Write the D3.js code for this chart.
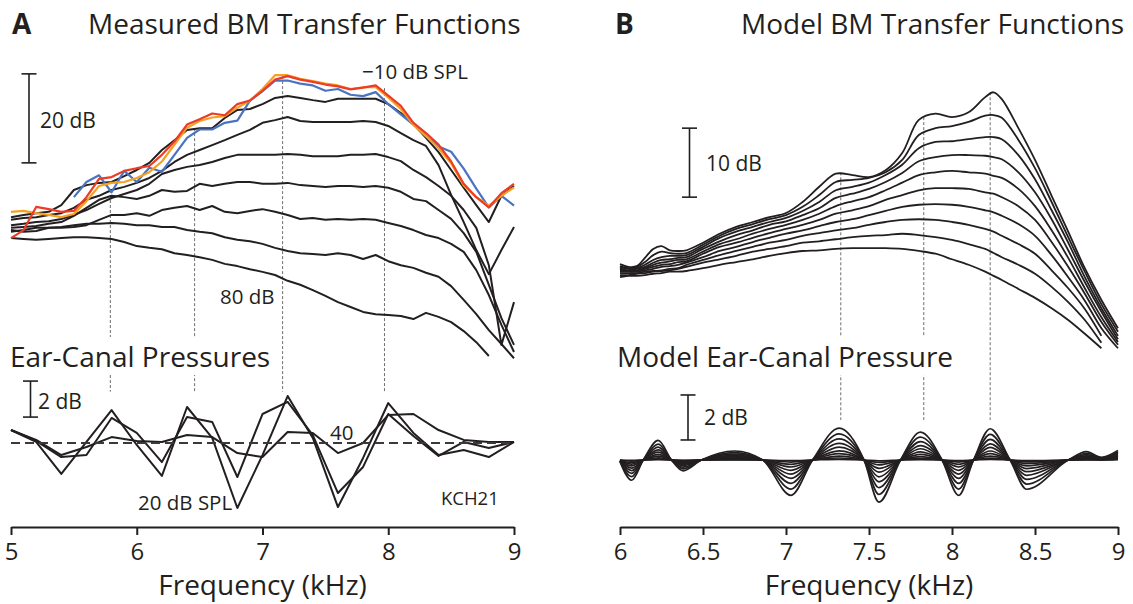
<!DOCTYPE html>
<html>
<head>
<meta charset="utf-8">
<script src="https://cdn.jsdelivr.net/npm/d3@7"></script>
<style>
  body { margin: 0; background: #fff; }
  text { font-family: "Open Sans", sans-serif; fill: #231f20; }
</style>
</head>
<body>
<svg id="fig" width="1133" height="604"></svg>
<script>
// ---------- Panel A: measured basilar-membrane transfer functions (dB) ----------
const freqA = [5.0, 5.1, 5.2, 5.3, 5.4, 5.5, 5.6, 5.7, 5.8, 5.9,
               6.0, 6.1, 6.2, 6.3, 6.4, 6.5, 6.6, 6.7, 6.8, 6.9,
               7.0, 7.1, 7.2, 7.3, 7.4, 7.5, 7.6, 7.7, 7.8, 7.9,
               8.0, 8.1, 8.2, 8.3, 8.4, 8.5, 8.6, 8.7, 8.8, 8.9, 9.0];

const bmMinus10 = [27.4, 29.2, 34.4, 33.9, 33.3, 33.5, 36.6, 40.7, 41.1, 42.5, 43.1, 43.6,
                   46.1, 49.1, 52.9, 54.1, 55.4, 55.0, 57.5, 58.3, 60.5, 63.0, 63.8, 63.0,
                   62.5, 61.9, 61.5, 60.8, 61.2, 61.7, 59.4, 57.1, 53.3, 51.0, 48.4, 44.6,
                   39.6, 36.6, 34.3, 37.5, 39.6];
const bm0 = [33.3, 33.5, 33.0, 32.6, 32.1, 32.8, 35.7, 39.1, 39.8, 40.0, 40.9, 42.2,
             44.6, 48.4, 52.2, 53.7, 54.5, 54.8, 56.7, 58.3, 60.9, 64.0, 64.0, 63.2,
             62.7, 62.1, 61.7, 60.9, 61.3, 61.3, 59.0, 56.4, 52.9, 50.3, 47.6, 44.2,
             39.2, 36.6, 34.7, 36.9, 38.8];
const bm10 = [null, null, null, null, null, 36.6, 40.0, 41.5, 37.7, 42.5, 40.0, 43.2,
              42.3, 46.1, 49.9, 51.8, 51.8, 53.3, 53.8, 58.3, 60.4, 62.8, 62.8, 62.1,
              61.7, 60.5, 60.9, 59.6, 59.3, 60.2, 57.5, 55.2, 52.9, 50.3, 48.0, 46.8,
              43.0, 38.5, 34.3, 36.9, 34.7];
const bm20 = [32.1, 32.6, 33.0, 33.3, 34.8, 38.2, 39.3, 39.8, 40.0, 41.3, 42.7, 44.3,
              47.2, 49.4, 51.7, 52.1, 52.1, 54.4, 56.2, 56.4, 57.5, 58.9, 59.3, 58.9,
              58.4, 58.0, 58.7, 58.7, 58.7, 58.7, 57.5, 55.5, 53.0, 49.9, 46.7, 42.7,
              38.7, 34.8, 31.0, 36.9, 39.1];
const bm30 = [31.5, 31.9, 32.1, 32.6, 33.0, 34.2, 36.0, 36.9, 38.2, 38.9, 39.8, 40.9,
              42.5, 44.5, 46.1, 47.2, 48.3, 49.4, 50.6, 51.7, 53.3, 53.9, 54.6, 53.7,
              53.5, 53.5, 53.5, 53.5, 53.7, 53.5, 52.6, 51.0, 49.4, 48.1, 43.8, 37.1,
              31.0, 24.7, 19.3, 24.7, 29.9];
const bm40 = [30.3, 30.6, 31.0, 31.2, 31.7, 32.6, 33.7, 35.1, 36.4, 37.3, 38.2, 39.6,
              41.8, 42.7, 43.4, 43.8, 44.5, 45.4, 46.1, 46.1, 46.1, 46.1, 46.3, 46.1,
              45.8, 45.8, 45.8, 46.1, 46.1, 46.3, 45.6, 44.7, 42.7, 41.1, 39.1, 36.9,
              33.7, 29.7, 21.3, 3.4, 13.0];
const bm50 = [29.7, 29.9, 30.1, 30.6, 31.0, 32.4, 34.2, 36.0, 36.9, 36.6, 36.2, 36.9,
              38.2, 37.8, 38.0, 39.6, 39.1, 39.6, 40.0, 40.0, 39.6, 39.6, 39.8, 39.3,
              39.1, 38.9, 39.1, 39.1, 38.9, 39.1, 38.7, 37.8, 36.2, 35.7, 33.7, 31.7,
              28.5, 24.3, 16.9, 9.4, 3.4];
const bm60 = [28.8, 29.2, 29.7, 29.7, 29.7, 29.9, 30.3, 31.5, 32.6, 32.6, 33.0, 32.4,
              33.7, 34.2, 34.6, 33.7, 34.6, 33.3, 33.0, 33.5, 33.9, 33.3, 32.6, 31.7,
              31.9, 31.5, 31.7, 31.5, 31.7, 31.5, 30.8, 30.1, 29.2, 28.1, 27.4, 26.1,
              24.3, 20.2, 14.6, 7.9, 1.8];
const bm70 = [29.2, 28.8, 29.0, 29.7, 29.9, 30.3, 30.6, 30.6, 30.8, 30.6, 30.3, 30.3,
              29.9, 29.9, 29.2, 28.8, 28.5, 27.6, 27.0, 26.7, 26.1, 25.2, 24.5, 24.0,
              23.8, 23.6, 24.0, 23.6, 22.7, 23.6, 22.2, 21.3, 20.7, 19.6, 18.7, 16.6,
              13.5, 10.3, 6.7, 3.6, 0.4];
const bm80 = [27.4, 27.2, 27.0, 27.2, 27.4, 27.6, 27.6, 27.4, 27.2, 26.5, 25.6, 25.2,
              24.9, 24.0, 23.6, 23.1, 22.5, 21.6, 21.1, 20.4, 19.8, 19.1, 17.8, 16.9,
              15.7, 14.4, 13.0, 11.9, 10.8, 10.3, 10.1, 9.9, 9.2, 10.6, 9.7, 8.5,
              6.5, 4.0, 0.9, null, null];

// Measured ear-canal pressure re mean (dB), 0.2-kHz steps
const freqCanalA = [5.0, 5.2, 5.4, 5.6, 5.8, 6.0, 6.2, 6.4, 6.6, 6.8, 7.0,
                    7.2, 7.4, 7.6, 7.8, 8.0, 8.2, 8.4, 8.6, 8.8, 9.0];
const canal20 = [0.72, 0.06, -1.72, 0.06, 1.83, -0.11, -1.83, 2.0, 0.28, -3.61, -0.67,
                 2.61, 0.28, -3.56, -0.83, 2.22, 0.56, -0.67, -0.39, -0.78, 0.06];
const canal30 = [0.72, 0.11, -0.78, -0.67, 1.39, 0.56, -1.06, 1.44, 1.17, -1.89, 1.61,
                 2.28, 0.44, -2.78, -1.33, 1.61, 0.39, -0.72, 0.06, -0.28, 0.06];
const canal40 = [0.72, 0.17, -0.67, -0.22, 0.33, 0.11, 0.06, 0.44, 0.33, -0.56, -0.78,
                 0.61, 0.56, -0.56, 0.0, 1.56, 1.61, 0.72, 0.17, 0.06, 0.06];

// Guide lines linking BM peaks to ear-canal maxima
const guideFreqA = [5.79, 6.46, 7.16, 7.97];
const guideTopA = [38.2, 52.1, 63.8, 61.1];

// ---------- Panel B: model transfer functions ----------
const freqB = [6.0, 6.05, 6.1, 6.15, 6.2, 6.25, 6.3, 6.35, 6.4, 6.5, 6.6, 6.7,
               6.8, 6.9, 7.0, 7.1, 7.2, 7.3, 7.4, 7.5, 7.6, 7.7, 7.8, 7.9,
               8.0, 8.1, 8.2, 8.25, 8.3, 8.4, 8.5, 8.6, 8.7, 8.8, 8.9, 9.0];
const model1 = [13.9, 13.5, 13.6, 14.8, 16.1, 16.5, 15.9, 15.8, 15.9, 17.0, 18.3, 19.3,
                20.0, 20.7, 21.3, 22.9, 25.1, 27.0, 26.8, 26.5, 27.5, 30.0, 34.8, 35.7,
                35.2, 35.9, 38.1, 38.8, 37.8, 33.6, 29.0, 23.8, 18.6, 13.3, 8.7, 4.6];
const model2 = [13.6, 13.3, 13.5, 14.2, 15.2, 15.7, 15.5, 15.4, 15.5, 16.7, 18.0, 19.0,
                19.7, 20.4, 21.0, 22.2, 23.9, 25.8, 26.1, 26.4, 27.2, 29.0, 32.6, 33.6,
                33.9, 34.5, 35.4, 35.5, 35.1, 31.9, 27.8, 22.9, 17.8, 12.8, 8.1, 4.1];
const model3 = [13.5, 13.2, 13.3, 13.8, 14.5, 14.9, 15.1, 15.1, 15.2, 16.4, 17.7, 18.6,
                19.3, 20.0, 20.6, 21.6, 22.9, 24.6, 25.1, 25.7, 26.8, 28.3, 30.7, 31.6,
                31.7, 32.0, 32.3, 32.3, 32.0, 29.7, 26.2, 21.7, 17.0, 12.0, 7.5, 3.5];
const model4 = [13.3, 13.0, 13.2, 13.5, 14.1, 14.5, 14.6, 14.8, 14.9, 16.1, 17.2, 18.1,
                18.8, 19.6, 20.1, 21.0, 22.0, 23.5, 24.1, 24.8, 25.8, 27.1, 28.8, 29.4,
                29.7, 29.7, 29.6, 29.4, 29.1, 27.2, 24.3, 20.4, 15.9, 11.3, 7.0, 3.0];
const model5 = [13.2, 12.9, 13.0, 13.3, 13.8, 14.1, 14.3, 14.5, 14.6, 15.7, 16.8, 17.5,
                18.3, 19.0, 19.6, 20.3, 21.2, 22.3, 23.0, 23.6, 24.6, 25.7, 26.8, 27.2,
                27.4, 27.2, 27.0, 26.7, 26.4, 24.8, 22.3, 18.8, 14.8, 10.4, 6.2, 2.6];
const model6 = [13.0, 12.9, 12.9, 13.2, 13.5, 13.8, 13.9, 14.2, 14.3, 15.4, 16.4, 17.0,
                17.7, 18.4, 19.0, 19.6, 20.3, 21.2, 21.7, 22.3, 23.2, 23.9, 24.6, 24.9,
                24.9, 24.8, 24.3, 24.1, 23.6, 22.3, 20.3, 17.1, 13.5, 9.6, 5.5, 2.2];
const model7 = [12.8, 12.8, 12.8, 13.0, 13.2, 13.5, 13.6, 13.8, 14.1, 14.9, 15.8, 16.4,
                17.1, 17.7, 18.3, 18.8, 19.4, 20.0, 20.4, 21.0, 21.6, 22.2, 22.5, 22.6,
                22.5, 22.2, 21.7, 21.4, 20.9, 19.7, 18.0, 15.2, 12.0, 8.6, 4.6, 1.7];
const model8 = [12.6, 12.6, 12.6, 12.8, 12.9, 13.0, 13.2, 13.3, 13.8, 14.5, 15.2, 15.8,
                16.4, 17.0, 17.4, 18.0, 18.4, 18.8, 19.1, 19.6, 20.0, 20.3, 20.4, 20.3,
                20.0, 19.6, 19.0, 18.6, 18.0, 16.8, 15.4, 13.0, 10.4, 7.4, 3.5, null];
const model9 = [12.3, 12.3, 12.5, 12.6, 12.8, 12.9, 13.0, 13.2, 13.5, 14.1, 14.6, 15.1,
                15.7, 16.1, 16.5, 17.0, 17.2, 17.5, 17.8, 18.0, 18.1, 18.3, 18.1, 17.8,
                17.4, 16.8, 16.1, 15.5, 14.9, 13.8, 12.5, 10.6, 8.4, 5.8, 2.5, null];
const model10 = [12.0, 12.2, 12.2, 12.3, 12.5, 12.6, 12.8, 12.8, 12.9, 13.3, 13.8, 14.2,
                 14.6, 15.1, 15.5, 15.8, 15.9, 16.1, 16.2, 16.2, 16.2, 16.1, 15.8, 15.4,
                 14.6, 13.8, 12.8, 12.2, 11.6, 10.3, 9.0, 7.5, 5.8, 3.8, 1.7, null];

// Model ear-canal pressure (dB), sampled at extrema and zero crossings
const freqCanalB = [6.00, 6.07, 6.14, 6.23, 6.31, 6.38, 6.49, 6.69, 6.86, 7.03, 7.16, 7.32, 7.47,
                    7.56, 7.69, 7.81, 7.94, 8.04, 8.13, 8.23, 8.35, 8.45, 8.70, 8.81, 8.90, 9.00];
const mcanal1 = [-0.07, -0.90, 0, 0.87, 0, -0.48, 0, 0.40, 0, -1.57, 0, 1.42, 0, -1.87, 0, 1.24, 0, -1.57, 0, 1.39, 0, -1.30, 0, 0.37, 0.12, 0.42];
const mcanal2 = [-0.06, -0.74, 0, 0.71, 0, -0.39, 0, 0.33, 0, -1.29, 0, 1.16, 0, -1.53, 0, 1.02, 0, -1.29, 0, 1.14, 0, -1.07, 0, 0.30, 0.10, 0.36];
const mcanal3 = [-0.05, -0.59, 0, 0.57, 0, -0.32, 0, 0.26, 0, -1.04, 0, 0.94, 0, -1.23, 0, 0.82, 0, -1.04, 0, 0.92, 0, -0.86, 0, 0.24, 0.08, 0.30];
const mcanal4 = [-0.04, -0.47, 0, 0.45, 0, -0.25, 0, 0.21, 0, -0.82, 0, 0.74, 0, -0.97, 0, 0.64, 0, -0.82, 0, 0.72, 0, -0.68, 0, 0.19, 0.06, 0.25];
const mcanal5 = [-0.03, -0.36, 0, 0.35, 0, -0.19, 0, 0.16, 0, -0.63, 0, 0.57, 0, -0.75, 0, 0.50, 0, -0.63, 0, 0.56, 0, -0.52, 0, 0.15, 0.05, 0.20];
const mcanal6 = [-0.02, -0.26, 0, 0.25, 0, -0.14, 0, 0.12, 0, -0.46, 0, 0.41, 0, -0.54, 0, 0.36, 0, -0.46, 0, 0.40, 0, -0.38, 0, 0.11, 0.04, 0.16];
const mcanal7 = [-0.01, -0.18, 0, 0.17, 0, -0.10, 0, 0.08, 0, -0.31, 0, 0.28, 0, -0.37, 0, 0.25, 0, -0.31, 0, 0.28, 0, -0.26, 0, 0.07, 0.03, 0.12];
const mcanal8 = [-0.01, -0.11, 0, 0.10, 0, -0.06, 0, 0.05, 0, -0.19, 0, 0.17, 0, -0.22, 0, 0.15, 0, -0.19, 0, 0.17, 0, -0.16, 0, 0.04, 0.02, 0.08];
const mcanal9 = [0, -0.05, 0, 0.05, 0, -0.03, 0, 0.02, 0, -0.09, 0, 0.09, 0, -0.11, 0, 0.07, 0, -0.09, 0, 0.08, 0, -0.08, 0, 0.02, 0.01, 0.05];
const mcanal10 = [0, -0.02, 0, 0.02, 0, -0.01, 0, 0.01, 0, -0.03, 0, 0.03, 0, -0.04, 0, 0.02, 0, -0.03, 0, 0.03, 0, -0.03, 0, 0.01, 0, 0.02];

const guideFreqB = [7.33, 7.83, 8.23];
const guideTopB = [27.2, 35.2, 38.8];

const ticksA = [5, 6, 7, 8, 9];
const ticksB = [6, 6.5, 7, 7.5, 8, 8.5, 9];

// ---------- scales ----------
const xA = d3.scaleLinear().domain([5, 9]).range([11, 514]);
const yA = d3.scaleLinear().domain([0, 60]).range([360, 93]);     // BM gain, dB
const eA = d3.scaleLinear().domain([-2, 2]).range([479, 407]);    // ear-canal level, dB
const xB = d3.scaleLinear().domain([6, 9]).range([620, 1118]);
const yB = d3.scaleLinear().domain([0, 40]).range([360, 84]);
const eB = d3.scaleLinear().domain([-2, 2]).range([505, 415]);

const svg = d3.select('#fig');
const ink = '#231f20';

function series(freqs, vals) {
  return freqs.map((f, i) => [f, vals[i]]);
}
function lineGen(x, y, curve) {
  return d3.line().defined(d => d[1] != null)
    .x(d => x(d[0])).y(d => y(d[1])).curve(curve || d3.curveLinear);
}

// ---------- guide lines (drawn first; titles mask them) ----------
const guides = svg.append('g').attr('stroke', '#6d6e71').attr('stroke-width', 1)
  .attr('stroke-dasharray', '3,2').attr('fill', 'none');
guideFreqA.forEach((f, i) => {
  guides.append('line').attr('x1', xA(f)).attr('x2', xA(f))
    .attr('y1', yA(guideTopA[i])).attr('y2', eA(2.85));
});
guideFreqB.forEach((f, i) => {
  guides.append('line').attr('x1', xB(f)).attr('x2', xB(f))
    .attr('y1', yB(guideTopB[i])).attr('y2', eB(1.78));
});

// ---------- Panel A curves ----------
const gA = svg.append('g').attr('fill', 'none').attr('stroke-linejoin', 'round');
const lA = lineGen(xA, yA);
[bm80, bm70, bm60, bm50, bm40, bm30, bm20].forEach(v => {
  gA.append('path').attr('d', lA(series(freqA, v)))
    .attr('stroke', ink).attr('stroke-width', 2);
});
[[bm10, '#4a74c2'], [bm0, '#f6a020'], [bmMinus10, '#ec3b26']].forEach(([v, c]) => {
  gA.append('path').attr('d', lA(series(freqA, v)))
    .attr('stroke', c).attr('stroke-width', 2.2);
});

// ear-canal reference level
svg.append('line').attr('x1', xA(5)).attr('x2', xA(9)).attr('y1', eA(0)).attr('y2', eA(0))
  .attr('stroke', '#3a3a3a').attr('stroke-width', 2).attr('stroke-dasharray', '9,5');
const lEA = lineGen(xA, eA);
[canal40, canal30, canal20].forEach(v => {
  gA.append('path').attr('d', lEA(series(freqCanalA, v)))
    .attr('stroke', ink).attr('stroke-width', 2);
});

// ---------- Panel B curves ----------
const gB = svg.append('g').attr('fill', 'none').attr('stroke', ink);
const lB = lineGen(xB, yB, d3.curveCatmullRom.alpha(0.5));
[model1, model2, model3, model4, model5, model6, model7, model8, model9, model10].forEach(v => {
  gB.append('path').attr('d', lB(series(freqB, v))).attr('stroke-width', 1.8);
});
const lEB = lineGen(xB, eB, d3.curveMonotoneX);
[mcanal10, mcanal9, mcanal8, mcanal7, mcanal6, mcanal5, mcanal4, mcanal3, mcanal2, mcanal1].forEach(v => {
  gB.append('path').attr('d', lEB(series(freqCanalB, v))).attr('stroke-width', 1.7);
});

// ---------- scale bars ----------
function scaleBar(x, y0, y1) {
  const g = svg.append('g').attr('stroke', ink).attr('stroke-width', 1.6);
  g.append('line').attr('x1', x).attr('x2', x).attr('y1', y0).attr('y2', y1);
  g.append('line').attr('x1', x - 7.5).attr('x2', x + 7.5).attr('y1', y0).attr('y2', y0);
  g.append('line').attr('x1', x - 7.5).attr('x2', x + 7.5).attr('y1', y1).attr('y2', y1);
}
scaleBar(29, yA(64.3), yA(44.3));      // 20 dB
scaleBar(30.5, eA(3.44), eA(1.44));    // 2 dB
scaleBar(689.5, yB(33.6), yB(23.6));   // 10 dB
scaleBar(688, eB(2.89), eB(0.89));     // 2 dB

// ---------- axes ----------
function drawAxis(scale, ticks) {
  const g = svg.append('g').attr('transform', 'translate(0,527)')
    .call(d3.axisBottom(scale).tickValues(ticks).tickSize(8).tickSizeOuter(0).tickPadding(8)
      .tickFormat(d3.format('')));
  g.select('.domain').attr('stroke', ink).attr('stroke-width', 2);
  g.selectAll('.tick line').attr('stroke', ink).attr('stroke-width', 2);
  g.selectAll('.tick text').attr('font-size', 24).attr('font-family', '"Open Sans", sans-serif')
    .attr('fill', ink);
  return g;
}
drawAxis(xA, ticksA);
drawAxis(xB, ticksB);

// ---------- text ----------
function label(x, y, str, size, opts = {}) {
  const t = svg.append('text').attr('x', x).attr('y', y).attr('font-size', size).text(str);
  if (opts.anchor) t.attr('text-anchor', opts.anchor);
  if (opts.bold) t.attr('font-weight', 700);
  if (opts.mask) {
    const b = t.node().getBBox();
    svg.insert('rect', () => t.node()).attr('x', b.x - 2).attr('y', b.y)
      .attr('width', b.width + 4).attr('height', b.height).attr('fill', '#fff');
  }
  return t;
}
label(12, 34, 'A', 28, { bold: true });
label(88, 34, 'Measured BM Transfer Functions', 28);
label(615, 34, 'B', 28, { bold: true });
label(741, 34, 'Model BM Transfer Functions', 28);
label(10, 367, 'Ear-Canal Pressures', 28, { mask: true });
label(617, 367, 'Model Ear-Canal Pressure', 28, { mask: true });
label(xA(7), 595, 'Frequency (kHz)', 28, { anchor: 'middle' });
label(xB(7.5), 595, 'Frequency (kHz)', 28, { anchor: 'middle' });

label(40, 128, '20 dB', 21);
label(38, 409, '2 dB', 21);
label(706, 171, '10 dB', 21);
label(704, 425, '2 dB', 21);
label(362, 79, '\u221210 dB SPL', 20.5);
label(220, 304, '80 dB', 20.5);
label(330, 440, '40', 20.5);
label(138, 510, '20 dB SPL', 20.5);
label(441, 505, 'KCH21', 18.5);
</script>
</body>
</html>
